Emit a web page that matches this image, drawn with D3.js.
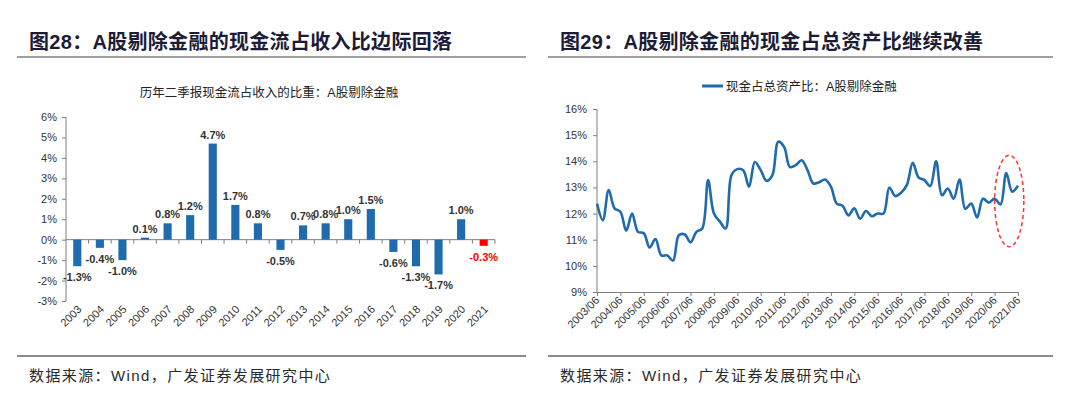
<!DOCTYPE html>
<html>
<head>
<meta charset="utf-8">
<script src="https://cdn.jsdelivr.net/npm/d3@7"></script>
<style>
  body { margin: 0; background: #fff; }
  svg { display: block; }
  text { font-family: "Liberation Sans", Arial, "Noto Sans CJK SC", sans-serif; }
</style>
</head>
<body>
<div id="chart"></div>
<script>
// left chart: cash flow / revenue, Q2 of every year
var years = ["2003","2004","2005","2006","2007","2008","2009","2010","2011","2012",
             "2013","2014","2015","2016","2017","2018","2019","2020","2021"];
var cashFlowRatio = [-1.3,-0.4,-1.0,0.1,0.8,1.2,4.7,1.7,0.8,-0.5,
                     0.7,0.8,1.0,1.5,-0.6,-1.3,-1.7,1.0,-0.3];
var leftTicks = [-3,-2,-1,0,1,2,3,4,5,6];

// right chart: cash / total assets, quarterly from 2003Q2 to 2021Q2
var cashAssetRatio = [
  12.38,11.75,12.9,
  12.2,12.07,11.35,12.0,
  11.3,11.25,10.7,11.03,
  10.4,10.4,10.2,11.17,
  11.2,10.9,11.3,11.43,
  13.28,12.0,11.7,11.43,
  13.47,13.7,13.66,13.03,
  13.97,13.66,13.25,13.47,
  14.75,14.55,13.78,13.85,
  14.04,13.66,13.15,13.2,
  13.3,13.03,12.38,12.3,
  11.93,12.2,11.8,12.1,
  11.9,12.0,12.0,13.0,
  12.67,12.8,13.1,13.94,
  13.38,13.28,13.05,14.0,
  12.7,12.96,12.57,13.3,
  12.18,12.38,11.85,12.57,
  12.42,12.57,12.35,13.55,
  12.84,13.07];
var rightTickLabels = ["2003/06","2004/06","2005/06","2006/06","2007/06","2008/06","2009/06",
  "2010/06","2011/06","2012/06","2013/06","2014/06","2015/06","2016/06","2017/06",
  "2018/06","2019/06","2020/06","2021/06"];
var rightTicks = [9,10,11,12,13,14,15,16];
// red dashed circle round the last quarters (index range, value range)
var highlightIdx = [68, 73];
var highlightVal = [10.73, 14.23];

var blue = "#1f6bae";
var axisColor = "#7f7f7f";

var svg = d3.select("#chart")
            .append("svg")
            .attr("width", 1080)
            .attr("height", 399);

//Titles, rules and source lines

function header(x0, x1, tx, num, title) {
  var t = svg.append("text")
     .attr("x", tx)
     .attr("y", 49)
     .attr("font-size", 20)
     .attr("font-weight", "bold")
     .attr("letter-spacing", 0.3)
     .attr("fill", "#1c1c36");
  t.append("tspan").text("图" + num + "：");
  t.append("tspan").text(title);
  svg.append("line")
     .attr("x1", x0).attr("x2", x1)
     .attr("y1", 57).attr("y2", 57)
     .attr("stroke", "#808080")
     .attr("stroke-width", 1.5);
  svg.append("line")
     .attr("x1", x0).attr("x2", x1)
     .attr("y1", 356).attr("y2", 356)
     .attr("stroke", "#8c8c8c")
     .attr("stroke-width", 2);
  svg.append("text")
     .attr("x", tx)
     .attr("y", 381)
     .attr("font-size", 15)
     .attr("letter-spacing", 1.4)
     .attr("fill", "#2a2a2a")
     .text("数据来源：Wind，广发证券发展研究中心");
}

header(17, 526, 29, "28", "A股剔除金融的现金流占收入比边际回落");
header(548, 1053, 560, "29", "A股剔除金融的现金占总资产比继续改善");

//Left chart (bars)

var xL = d3.scaleBand()
           .domain(years)
           .range([66, 495])
           .paddingInner(0.64)
           .paddingOuter(0.32);

var yL = d3.scaleLinear()
           .domain([-3, 6])
           .range([301, 117]);

svg.append("text")
   .attr("x", 269)
   .attr("y", 97)
   .attr("text-anchor", "middle")
   .attr("font-size", 12.5)
   .attr("fill", "#222")
   .text("历年二季报现金流占收入的比重：A股剔除金融");

var gyL = svg.append("g")
             .attr("transform", "translate(66,0)")
             .call(d3.axisLeft(yL).tickValues(leftTicks).tickSize(4).tickPadding(5)
                     .tickFormat(function(d){ return d + "%"; }));

// x axis on the zero line, ticks at band edges
var gxL = svg.append("g")
             .attr("transform", "translate(0," + yL(0) + ")");
gxL.append("line")
   .attr("x1", 66).attr("x2", 495)
   .attr("stroke", axisColor);
gxL.selectAll(".tk")
   .data(years)
   .enter().append("line")
   .attr("x1", function(d){ return xL(d) + xL.bandwidth() + xL.step() * xL.paddingOuter(); })
   .attr("x2", function(d){ return xL(d) + xL.bandwidth() + xL.step() * xL.paddingOuter(); })
   .attr("y1", 0).attr("y2", 4)
   .attr("stroke", axisColor);

svg.selectAll(".bar")
   .data(cashFlowRatio)
   .enter().append("rect")
   .attr("x", function(d, i){ return xL(years[i]); })
   .attr("y", function(d){ return yL(Math.max(0, d)); })
   .attr("width", xL.bandwidth())
   .attr("height", function(d){ return Math.abs(yL(d) - yL(0)); })
   .attr("fill", function(d, i){ return i == years.length - 1 ? "#ff0000" : blue; });

svg.selectAll(".lbl")
   .data(cashFlowRatio)
   .enter().append("text")
   .attr("x", function(d, i){ return xL(years[i]) + xL.bandwidth() / 2; })
   .attr("y", function(d){ return d >= 0 ? yL(d) - 5 : yL(d) + 15; })
   .attr("text-anchor", "middle")
   .attr("font-size", 11)
   .attr("font-weight", "bold")
   .attr("fill", function(d, i){ return i == years.length - 1 ? "#ff0000" : "#333"; })
   .text(function(d){ return d.toFixed(1) + "%"; });

// year labels below the plot
svg.selectAll(".yr")
   .data(years)
   .enter().append("text")
   .attr("transform", function(d){
     return "translate(" + (xL(d) + xL.bandwidth() / 2 + 5) + ",310) rotate(-45)";
   })
   .attr("text-anchor", "end")
   .attr("font-size", 11)
   .attr("fill", "#333")
   .text(function(d){ return d; });

//Right chart (line)

var xR = d3.scaleLinear()
           .domain([0, cashAssetRatio.length - 1])
           .range([597, 1018]);

var yR = d3.scaleLinear()
           .domain([9, 16])
           .range([292, 109]);

// legend
svg.append("line")
   .attr("x1", 702).attr("x2", 723)
   .attr("y1", 86).attr("y2", 86)
   .attr("stroke", blue)
   .attr("stroke-width", 3);
svg.append("text")
   .attr("x", 726)
   .attr("y", 91)
   .attr("font-size", 12.5)
   .attr("fill", "#222")
   .text("现金占总资产比：A股剔除金融");

var gyR = svg.append("g")
             .attr("transform", "translate(597,0)")
             .call(d3.axisLeft(yR).tickValues(rightTicks).tickSize(4).tickPadding(6)
                     .tickFormat(function(d){ return d + "%"; }));

var gxR = svg.append("g")
             .attr("transform", "translate(0,292)")
             .call(d3.axisBottom(xR)
                     .tickValues(rightTickLabels.map(function(d, i){ return i * 4; }))
                     .tickSize(4)
                     .tickFormat(""));

[gyL, gyR, gxR].forEach(function(g){
  g.select(".domain").attr("stroke", axisColor);
  g.selectAll(".tick line").attr("stroke", axisColor);
  g.selectAll(".tick text")
   .attr("font-size", 11)
   .attr("fill", "#333")
   .attr("font-family", "Liberation Sans, Arial, sans-serif");
});
gyL.select(".domain").attr("d", "M0," + yL(-3) + "V" + yL(6));
gyR.select(".domain").attr("d", "M0," + yR(9) + "V" + yR(16));

svg.selectAll(".qt")
   .data(rightTickLabels)
   .enter().append("text")
   .attr("transform", function(d, i){
     return "translate(" + (xR(i * 4) + 3) + ",301) rotate(-45)";
   })
   .attr("text-anchor", "end")
   .attr("font-size", 11)
   .attr("fill", "#333")
   .text(function(d){ return d; });

var line = d3.line()
             .x(function(d, i){ return xR(i); })
             .y(function(d){ return yR(d); })
             .curve(d3.curveCatmullRom.alpha(0.5));

svg.append("path")
   .datum(cashAssetRatio)
   .attr("d", line)
   .attr("fill", "none")
   .attr("stroke", blue)
   .attr("stroke-width", 2.6);

svg.append("ellipse")
   .attr("cx", (xR(highlightIdx[0]) + xR(highlightIdx[1])) / 2)
   .attr("cy", (yR(highlightVal[0]) + yR(highlightVal[1])) / 2)
   .attr("rx", (xR(highlightIdx[1]) - xR(highlightIdx[0])) / 2)
   .attr("ry", (yR(highlightVal[0]) - yR(highlightVal[1])) / 2)
   .attr("fill", "none")
   .attr("stroke", "#ff3333")
   .attr("stroke-width", 1.5)
   .attr("stroke-dasharray", "4,3");
</script>
</body>
</html>
